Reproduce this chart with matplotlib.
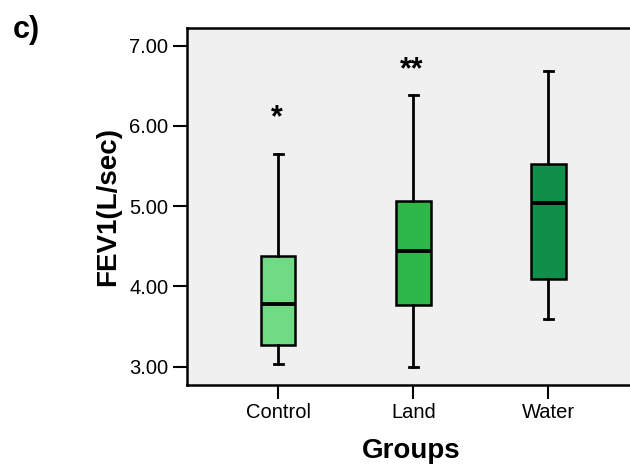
import matplotlib
matplotlib.use("Agg")
import matplotlib.pyplot as plt

plt.rcParams['font.family'] = ['Liberation Sans', 'DejaVu Sans']

groups = ["Control", "Land", "Water"]
whislo = [3.03, 3.00, 3.59]
q1 = [3.27, 3.77, 4.09]
med = [3.78, 4.44, 5.04]
q3 = [4.38, 5.06, 5.52]
whishi = [5.65, 6.39, 6.69]
sig = ["*", "**", ""]
sig_y = [6.09, 6.69, None]
colors = ["#70DB85", "#2FB84A", "#118F4A"]
yticks = [3.0, 4.0, 5.0, 6.0, 7.0]

fig = plt.figure(figsize=(6.3, 4.68), dpi=100)
ax = fig.add_axes([187/630, (468-384.7)/468, 1 - 187/630 + 0.01, (384.7-28.3)/468])
ax.set_facecolor("#F0F0F0")

stats = []
for i, g in enumerate(groups):
    stats.append(dict(label=g, whislo=whislo[i], q1=q1[i], med=med[i], q3=q3[i], whishi=whishi[i], fliers=[]))

positions = [1, 2, 3]
bp = ax.bxp(stats, positions=positions, widths=0.255, patch_artist=True, showfliers=False,
            boxprops=dict(linewidth=1.8, edgecolor="black"),
            medianprops=dict(color="black", linewidth=2.8),
            whiskerprops=dict(color="black", linewidth=2.0),
            capprops=dict(color="black", linewidth=2.0),
            capwidths=0.067)
for patch, c in zip(bp['boxes'], colors):
    patch.set_facecolor(c)

for p, s, y in zip(positions, sig, sig_y):
    if s:
        ax.text(p - 0.01, y, s, ha="center", va="center", fontsize=22, fontweight="bold")

ax.set_xlim(0.326, 3.65)
ax.set_ylim(2.776, 7.217)
ax.set_yticks(yticks)
ax.set_yticklabels([f"{v:.2f}" for v in yticks])
ax.set_xticks(positions)
ax.set_xticklabels(groups)
ax.tick_params(axis="both", labelsize=14.5, length=10, width=1.5, direction="out", colors="black")
for side in ["left", "bottom", "top"]:
    ax.spines[side].set_linewidth(1.8)
ax.spines["right"].set_visible(False)

ax.set_xlabel("Groups", fontsize=20, fontweight="bold", labelpad=11)
ax.set_ylabel("FEV1(L/sec)", fontsize=20, fontweight="bold", labelpad=6)

fig.text(13/630, 1 - 30/468, "c)", fontsize=22, fontweight="bold", ha="left", va="center")

fig.savefig("out.png", dpi=100)
